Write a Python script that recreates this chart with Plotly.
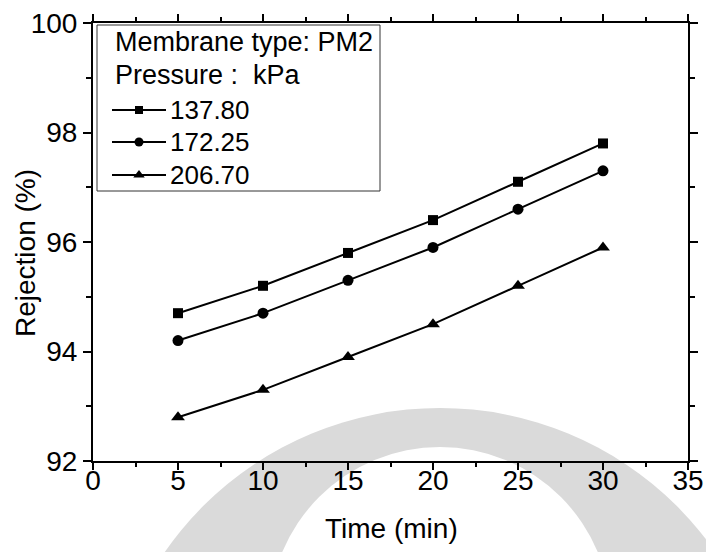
import plotly.graph_objects as go

# Rejection vs. time for membrane PM2 at three operating pressures (kPa)
time_min = [5, 10, 15, 20, 25, 30]
pressure_labels = ["137.80", "172.25", "206.70"]
rejection_137_80 = [94.7, 95.2, 95.8, 96.4, 97.1, 97.8]
rejection_172_25 = [94.2, 94.7, 95.3, 95.9, 96.6, 97.3]
rejection_206_70 = [92.8, 93.3, 93.9, 94.5, 95.2, 95.9]

x_ticks = [0, 5, 10, 15, 20, 25, 30, 35]
y_ticks = [92, 94, 96, 98, 100]

symbols = ["square", "circle", "triangle-up"]
marker_sizes = [10, 11, 12]
key_sizes = [8, 9, 10]
series_values = [rejection_137_80, rejection_172_25, rejection_206_70]

FONT = "Liberation Sans, Arial, Helvetica, sans-serif"

# figure geometry in pixels
W, H = 706, 552
L, R, T, B = 93, 18, 23, 91
PW, PH = W - L - R, H - T - B


def px_x(px):
    return (px - L) / PW


def px_y(py):
    return (H - B - py) / PH


fig = go.Figure()
for name, values, symbol, size in zip(pressure_labels, series_values, symbols, marker_sizes):
    fig.add_trace(go.Scatter(
        x=time_min, y=values, name=name, mode="lines+markers",
        line=dict(color="black", width=2),
        marker=dict(symbol=symbol, size=size, color="black"),
        showlegend=False,
    ))

# legend keys drawn on an overlay axis measured in pixels
key_rows = [110, 142, 175]
for symbol, size, row in zip(symbols, key_sizes, key_rows):
    fig.add_trace(go.Scatter(
        x=[112, 139, 166], y=[row, row, row], mode="lines",
        line=dict(color="black", width=2),
        xaxis="x2", yaxis="y2", showlegend=False, hoverinfo="skip",
    ))
    fig.add_trace(go.Scatter(
        x=[139], y=[row], mode="markers",
        marker=dict(symbol=symbol, size=size, color="black"),
        xaxis="x2", yaxis="y2", showlegend=False, hoverinfo="skip",
    ))

# faint circular emblem behind the axes: grey disc with a white centre
def emblem_disc(cx, cy, r, color):
    fig.add_shape(type="circle", xref="paper", yref="paper", layer="below",
                  x0=px_x(cx - r), x1=px_x(cx + r),
                  y0=px_y(cy + r), y1=px_y(cy - r),
                  fillcolor=color, line=dict(width=0))


emblem_disc(440, 743, 335, "#dadada")
emblem_disc(440, 618, 171, "white")

# legend box
fig.add_shape(type="rect", xref="paper", yref="paper",
              x0=px_x(97), x1=px_x(380), y0=px_y(191), y1=px_y(25),
              fillcolor="white", line=dict(color="#333333", width=1), layer="below")

legend_text = [
    ("Membrane type: PM2", 113, 42, 27),
    ("Pressure :\u00a0\u00a0kPa", 113, 75, 27),
] + [(lab, 168, row, 26) for lab, row in zip(pressure_labels, key_rows)]
for text, lx, ly, fs in legend_text:
    fig.add_annotation(text=text, xref="paper", yref="paper",
                       x=px_x(lx), y=px_y(ly), xanchor="left", yanchor="middle",
                       showarrow=False, font=dict(family=FONT, size=fs, color="black"))

# axis titles
fig.add_annotation(text="Time (min)", xref="paper", yref="paper",
                   x=px_x(391), y=px_y(528), xanchor="center", yanchor="middle",
                   showarrow=False, font=dict(family=FONT, size=28, color="black"))
fig.add_annotation(text="Rejection (%)", xref="paper", yref="paper",
                   x=px_x(25), y=px_y(253), xanchor="center", yanchor="middle",
                   textangle=-90, showarrow=False,
                   font=dict(family=FONT, size=28, color="black"))

axis_common = dict(
    showline=True, linecolor="black", linewidth=2, mirror="allticks",
    ticks="outside", tickwidth=2, tickcolor="black",
    showgrid=False, zeroline=False,
    tickfont=dict(family=FONT, size=28, color="black"),
)

xaxis = dict(
    range=[0, 35], tickvals=x_ticks, ticklen=7, ticklabelstandoff=-14,
    minor=dict(dtick=2.5, ticklen=4, ticks="outside", tickwidth=2,
               tickcolor="black", showgrid=False),
    **axis_common,
)
yaxis = dict(
    range=[92, 100], tickvals=y_ticks, ticklen=8,
    minor=dict(dtick=1, ticklen=5, ticks="outside", tickwidth=2,
               tickcolor="black", showgrid=False),
    **axis_common,
)

fig.update_layout(
    width=W, height=H,
    margin=dict(l=L, r=R, t=T, b=B, autoexpand=False),
    paper_bgcolor="white", plot_bgcolor="rgba(0,0,0,0)",
    font=dict(family=FONT, size=26, color="black"),
    xaxis=xaxis, yaxis=yaxis,
    xaxis2=dict(overlaying="x", anchor="y2", range=[L, W - R], visible=False,
                fixedrange=True),
    yaxis2=dict(overlaying="y", anchor="x2", range=[H - B, T], visible=False,
                fixedrange=True),
)

fig.write_html("out.html")
